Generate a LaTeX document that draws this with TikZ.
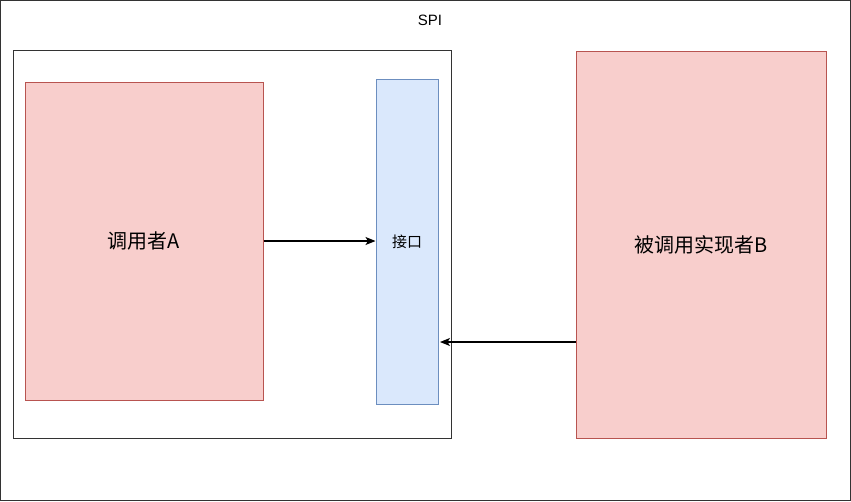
\documentclass[tikz,border=0pt]{standalone}
\usepackage{fontspec}
\setmainfont{Liberation Sans}
\newfontfamily\cjk{Noto Sans CJK SC}
\usetikzlibrary{arrows.meta, positioning}

\definecolor{redfill}{HTML}{F8CECC}
\definecolor{redline}{HTML}{B85450}
\definecolor{bluefill}{HTML}{DAE8FC}
\definecolor{blueline}{HTML}{6C8EBF}

\begin{document}
\begin{tikzpicture}[x=1pt, y=-1pt, line width=1pt,
  redbox/.style={draw=redline, fill=redfill, inner sep=0pt, font=\cjk\fontsize{20}{24}\selectfont},
  bluebox/.style={draw=blueline, fill=bluefill, inner sep=0pt, font=\cjk\fontsize{15}{18}\selectfont},
  frame/.style={draw=black!80, inner sep=0pt},
  link/.style={-{Stealth[length=10pt, width=8pt, inset=2.5pt]}, line width=1.2pt}]
\useasboundingbox (0,0) rectangle (851,501);
\draw[black!80] (0.5,0.5) rectangle (850.5,500.5);
\node[font=\fontsize{15}{18}\selectfont] (spi) at (430,20) {SPI};

% frame round caller and interface
\node[frame, minimum width=438pt, minimum height=388pt] (spiframe) at (232,244) {};

\node[redbox, minimum width=238pt, minimum height=318pt] (callerA) at (144,241) {调用者A};
\node[bluebox, minimum width=62pt, minimum height=325pt] (iface) at (407,241.5) {接口};
\node[redbox, minimum width=250pt, minimum height=387pt] (implB) at (701,244.5) {被调用实现者B};

\draw[link] (callerA.east) -- (callerA.east -| iface.west);
\coordinate (bout) at (implB.west |- 0,342);
\draw[link, shorten >=1.5pt] (bout) -- (bout -| iface.east);
\end{tikzpicture}
\end{document}
